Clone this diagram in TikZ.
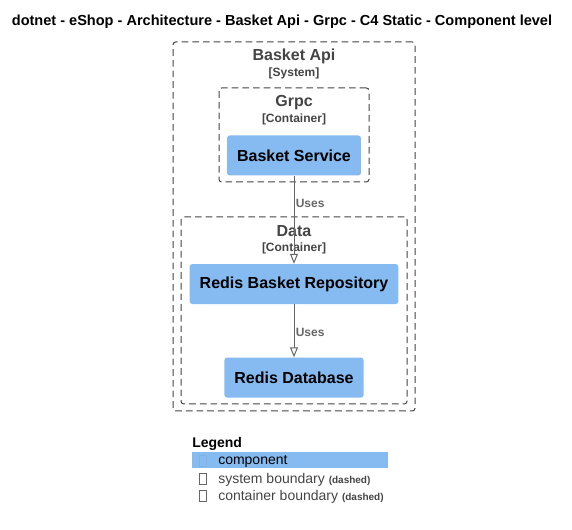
\documentclass[tikz,border=0pt]{standalone}
\usepackage{fontspec}
\setmainfont{Liberation Sans}
\usetikzlibrary{shapes,arrows.meta,positioning}
\definecolor{compblue}{HTML}{85BBF0}
\definecolor{bordergray}{HTML}{444444}
\definecolor{linegray}{HTML}{666666}
\tikzstyle{component} = [rectangle, fill=compblue, rounded corners=2pt,
    inner xsep=7.5pt, minimum height=30pt, font=\fontsize{12}{14}\selectfont\bfseries]
\tikzstyle{boundary} = [rectangle, draw=bordergray, line width=0.75pt,
    dash pattern=on 5pt off 3pt, rounded corners=2pt]
\tikzstyle{blabel} = [text=bordergray, inner sep=0pt, font=\fontsize{12}{14}\selectfont\bfseries]
\tikzstyle{btype} = [text=bordergray, inner sep=0pt, font=\fontsize{9}{11}\selectfont\bfseries]
\tikzstyle{line} = [draw=linegray, line width=0.75pt, -{Triangle[open, length=7.5pt, width=6pt]}]
\tikzstyle{uses} = [text=linegray, right, inner sep=1pt, font=\fontsize{9}{11}\selectfont\bfseries]
\tikzstyle{legtext} = [anchor=west, inner sep=0pt, font=\fontsize{10.5}{12}\selectfont]
\tikzstyle{legbox} = [rectangle, draw=linegray, line width=0.5pt, minimum width=5pt,
    minimum height=8pt, inner sep=0pt]
\newcommand{\dashednote}{{\fontsize{7.5}{9}\selectfont\bfseries (dashed)}}

\begin{document}
\begin{tikzpicture}[x=0.75pt, y=-0.75pt]

	\useasboundingbox (0,0) rectangle (572,530);

	\node [font=\fontsize{10.9}{13}\selectfont\bfseries] (title) at (282,21.5)
		{dotnet - eShop - Architecture - Basket Api - Grpc - C4 Static - Component level};

	\node [boundary, minimum width=181.5pt, minimum height=276.75pt] (basketapi) at (294,226.5) {};
	\node [blabel] (basketapiname) at (294,56.5) {Basket Api};
	\node [btype] (basketapitype) at (294,73) {[System]};

	\node [boundary, minimum width=112.5pt, minimum height=70.5pt] (grpc) at (294,135) {};
	\node [blabel] (grpcname) at (294,102.5) {Grpc};
	\node [btype] (grpctype) at (294,119) {[Container]};

	\node [boundary, minimum width=169.5pt, minimum height=140.25pt] (data) at (294,310.5) {};
	\node [blabel] (dataname) at (294,231.5) {Data};
	\node [btype] (datatype) at (294,248) {[Container]};

	\node [component] (service) at (294,155.5) {Basket Service};
	\node [component, below=66pt of service] (repo) {Redis Basket Repository};
	\node [component, below=39.75pt of repo] (redisdb) {Redis Database};

	\path [line] (service) -- node [uses, pos=0.3, yshift=-1pt] {Uses} (repo);
	\path [line] (repo) -- node [uses, pos=0.5, yshift=-1pt] {Uses} (redisdb);

	\node [anchor=west, inner sep=0pt, font=\fontsize{10.5}{12}\selectfont\bfseries] (legend) at (192,444) {Legend};
	\node [fill=compblue, anchor=north west, inner sep=0pt, minimum width=147pt, minimum height=12pt] (legcomp) at (192,452) {};
	\node [legbox, draw=compblue!85!gray] (compbox) at (203,461) {};
	\node [legtext] (comptext) at (218,461.5) {component};
	\node [legbox] (sysbox) at (203,479) {};
	\node [legtext, text=bordergray] (systext) at (218,479.5) {system boundary \dashednote};
	\node [legbox] (contbox) at (203,496) {};
	\node [legtext, text=bordergray] (conttext) at (218,496.5) {container boundary \dashednote};
\end{tikzpicture}
\end{document}
